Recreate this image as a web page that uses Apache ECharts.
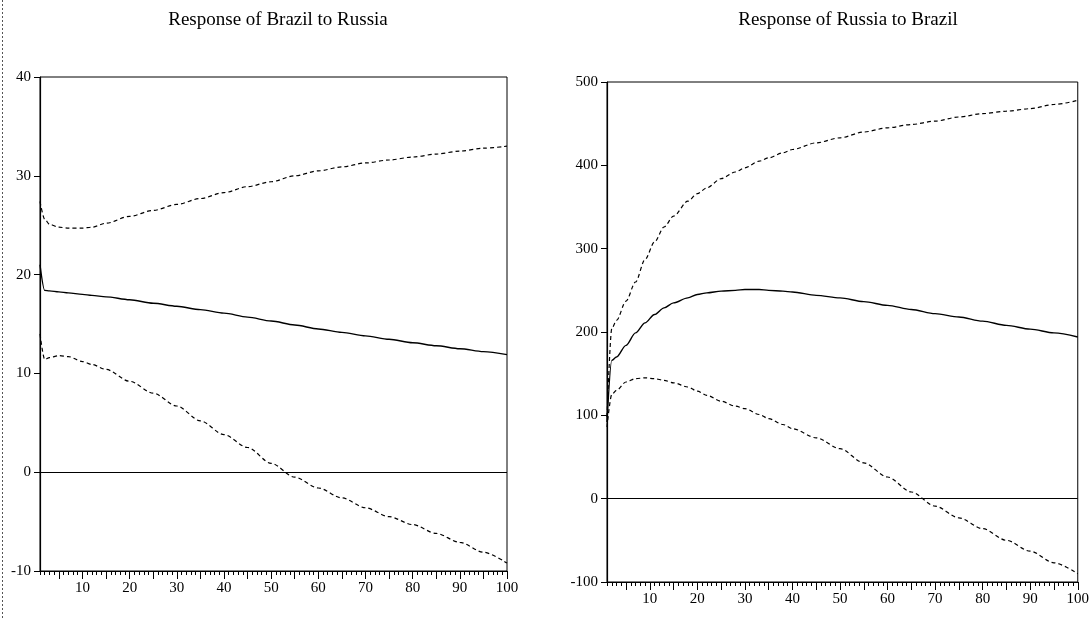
<!DOCTYPE html>
<html>
<head>
<meta charset="utf-8">
<script src="https://cdn.jsdelivr.net/npm/echarts@6/dist/echarts.min.js"></script>
<style>html,body{margin:0;padding:0;background:#fff}#c{width:1092px;height:619px}</style>
</head>
<body>
<div id="c"></div>
<script>
// ---- Data ----
const titles = ["Response of Brazil to Russia", "Response of Russia to Brazil"];

const brX     = [1, 2, 3, 5, 7, 10, 12, 15, 20, 25, 30, 35, 40, 45, 50, 55, 60, 65, 70, 75, 80, 85, 90, 95, 100];
const brMid   = [21.0, 18.4, 18.35, 18.25, 18.15, 18.0, 17.9, 17.75, 17.45, 17.1, 16.8, 16.45, 16.1, 15.7, 15.3, 14.9, 14.5, 14.15, 13.8, 13.45, 13.1, 12.8, 12.5, 12.2, 11.9];
const brUpper = [27.4, 25.6, 25.1, 24.8, 24.7, 24.7, 24.8, 25.2, 25.9, 26.5, 27.1, 27.7, 28.3, 28.9, 29.4, 30.0, 30.5, 30.9, 31.3, 31.6, 31.9, 32.2, 32.5, 32.8, 33.0];
const brLower = [14.0, 11.4, 11.6, 11.8, 11.7, 11.2, 10.9, 10.4, 9.2, 8.0, 6.7, 5.2, 3.8, 2.5, 0.9, -0.5, -1.6, -2.6, -3.6, -4.5, -5.3, -6.2, -7.1, -8.1, -9.2];

const ruX     = [1, 2, 3, 5, 7, 9, 11, 13, 15, 18, 20, 22, 25, 28, 30, 33, 35, 38, 40, 45, 50, 55, 60, 65, 70, 75, 80, 85, 90, 95, 100];
const ruMid   = [92, 166, 170, 184, 199, 211, 221, 229, 235, 241, 245, 247, 249, 250, 251, 251, 250, 249, 248, 244, 241, 236.5, 232, 227, 222, 218, 213, 208, 203.5, 199, 194];
const ruUpper = [98, 204, 214, 237, 260, 287, 308, 326, 339, 357, 366, 373, 384, 392, 397, 405, 409, 415, 419, 427, 433, 440, 445, 449, 453, 458, 462, 465, 468, 473, 478];
const ruLower = [86, 125, 130, 140, 144, 145, 144, 142, 139, 134, 129, 124, 117, 111, 108, 101, 96, 89, 84, 73, 60, 43, 26, 8, -9, -23, -36, -50, -63, -77, -90];

const xLabels   = [10, 20, 30, 40, 50, 60, 70, 80, 90, 100];
const brYLabels = [-10, 0, 10, 20, 30, 40];
const ruYLabels = [-100, 0, 100, 200, 300, 400, 500];

// ---- Build ----
const pairs = (xs, ys) => xs.map((x, i) => [x, ys[i]]);
const allUnits = Array.from({length: 100}, (_, i) => i + 1);
const fives = allUnits.filter(v => v % 5 === 0);

const FONT = "'Liberation Serif', 'Times New Roman', serif";
const grids = [
  {left: 40, width: 467, top: 77, height: 494},
  {left: 607, width: 472, top: 82, height: 500}
];

const option = {
  backgroundColor: '#fff',
  animation: false,
  title: titles.map((t, i) => ({
    text: t,
    left: i === 0 ? 273 : 843,
    top: 6,
    textAlign: 'center',
    textStyle: {fontFamily: FONT, fontSize: 19, fontWeight: 'normal', color: '#000'}
  })),
  grid: grids.map(g => Object.assign({show: true, borderColor: '#000', borderWidth: 1, backgroundColor: 'transparent'}, g)),
  xAxis: [],
  yAxis: [],
  series: [],
  graphic: [{
    type: 'line', shape: {x1: 2.5, y1: 0, x2: 2.5, y2: 619},
    style: {stroke: '#555', lineWidth: 1, lineDash: [2, 2]}, silent: true
  }]
};

[0, 1].forEach(gi => {
  option.xAxis.push({
    type: 'value', gridIndex: gi, min: 1, max: 100, position: 'bottom',
    axisLine: {show: true, onZero: false, lineStyle: {color: '#000', width: 1.2}},
    axisTick: {show: true, customValues: allUnits, length: 4, inside: false, lineStyle: {color: '#000', width: 1}},
    axisLabel: {show: true, customValues: xLabels, fontFamily: FONT, fontSize: 15, color: '#000', margin: 10},
    splitLine: {show: false}
  });
  option.xAxis.push({
    type: 'value', gridIndex: gi, min: 1, max: 100, position: 'bottom',
    axisLine: {show: false, onZero: false},
    axisTick: {show: true, customValues: fives, length: 8, lineStyle: {color: '#000', width: 1}},
    axisLabel: {show: false},
    splitLine: {show: false}
  });
  const yl = gi === 0 ? brYLabels : ruYLabels;
  option.yAxis.push({
    type: 'value', gridIndex: gi, min: yl[0], max: yl[yl.length - 1],
    axisLine: {show: true, onZero: false, lineStyle: {color: '#000', width: 1.2}},
    axisTick: {show: true, customValues: yl, length: 6, lineStyle: {color: '#000', width: 1}},
    axisLabel: {show: true, customValues: yl, fontFamily: FONT, fontSize: 15, color: '#000', margin: 9},
    splitLine: {show: false}
  });
});

function addSeries(gi, xs, ys, dashed, zero) {
  const s = {
    type: 'line', xAxisIndex: gi * 2, yAxisIndex: gi,
    data: pairs(xs, ys), showSymbol: false, symbol: 'none',
    smooth: 0.3, smoothMonotone: 'x',
    lineStyle: {color: '#000', width: dashed ? 1.2 : 1.4, type: dashed ? [4, 3] : 'solid'},
    silent: true
  };
  if (zero) {
    s.markLine = {
      silent: true, symbol: ['none', 'none'], label: {show: false},
      lineStyle: {color: '#000', width: 1.1, type: 'solid'},
      data: [{yAxis: 0}]
    };
  }
  option.series.push(s);
}
addSeries(0, brX, brMid, false, true);
addSeries(0, brX, brUpper, true, false);
addSeries(0, brX, brLower, true, false);
addSeries(1, ruX, ruMid, false, true);
addSeries(1, ruX, ruUpper, true, false);
addSeries(1, ruX, ruLower, true, false);

const chart = echarts.init(document.getElementById('c'), null, {renderer: 'canvas'});
chart.setOption(option);
</script>
</body>
</html>
